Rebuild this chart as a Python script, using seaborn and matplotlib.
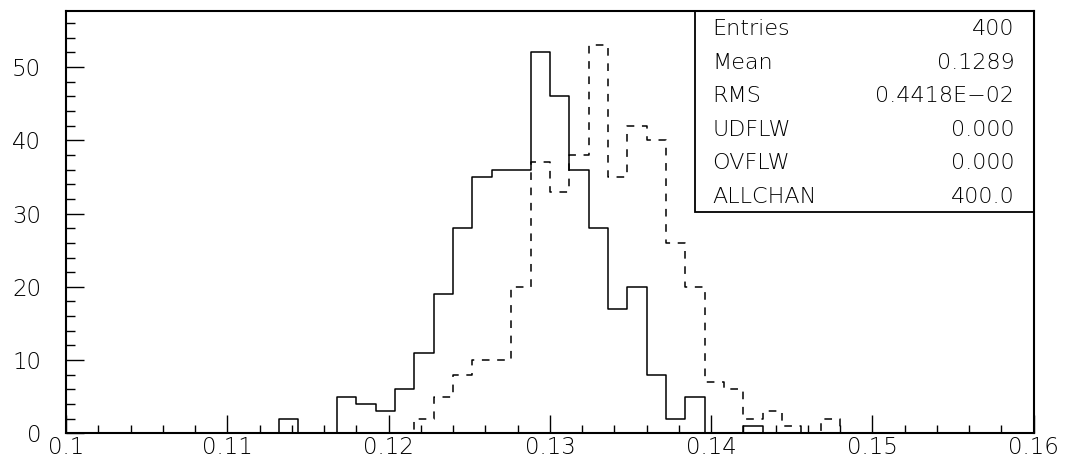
import numpy as np
import pandas as pd
import matplotlib
matplotlib.use("Agg")
import matplotlib.pyplot as plt
import seaborn as sns
from matplotlib.patches import Rectangle
from matplotlib.ticker import MultipleLocator

# ---------------------------------------------------------
# Dati: 50 canali da 0.1 a 0.16 (larghezza 0.0012)
# ---------------------------------------------------------
X_MIN, X_MAX, N_BINS = 0.1, 0.16, 50

# conteggi per canale (istogramma continuo)
solid_counts = [0] * 11 + [2, 0, 0, 5, 4, 3, 6, 11, 19, 28, 35, 36, 36, 52, 46,
                           36, 28, 17, 20, 8, 2, 5, 0, 0, 1] + [0] * 14
# conteggi per canale (istogramma tratteggiato)
dashed_counts = [0] * 18 + [2, 5, 8, 10, 10, 20, 37, 33, 38, 53, 35, 42, 40,
                            26, 20, 7, 6, 2, 3, 1, 0, 2] + [0] * 10

stat_names = ['Entries', 'Mean', 'RMS', 'UDFLW', 'OVFLW', 'ALLCHAN']
stat_values = ['400', '0.1289', '0.4418E\u221202', '0.000', '0.000', '400.0']

xtick_labels = ['0.1', '0.11', '0.12', '0.13', '0.14', '0.15', '0.16']
ytick_values = [0, 10, 20, 30, 40, 50]

edges = np.linspace(X_MIN, X_MAX, N_BINS + 1)
centers = 0.5 * (edges[:-1] + edges[1:])
df = pd.DataFrame({'x': centers, 'solid': solid_counts, 'dashed': dashed_counts})

# ---------------------------------------------------------
# Stile
# ---------------------------------------------------------
sns.set_style("ticks")
plt.rcParams['font.family'] = ['DejaVu Sans']
plt.rcParams['font.weight'] = 'light'
FS = 16.5
FS_BOX = 16

fig = plt.figure(figsize=(10.67, 4.68), dpi=100)
ax = fig.add_axes([0.0619, 0.0741, 0.9069, 0.9030])

sns.histplot(data=df, x='x', weights='solid', bins=N_BINS,
             binrange=(X_MIN, X_MAX), element='step',
             fill=False, color='black', linewidth=1.1, ax=ax)
sns.histplot(data=df, x='x', weights='dashed', bins=N_BINS,
             binrange=(X_MIN, X_MAX), element='step',
             fill=False, color='black', linewidth=1.1, ax=ax,
             linestyle=(0, (5, 5)))

ax.set_xlim(X_MIN, X_MAX)
ax.set_ylim(0, 57.7)
ax.set_xlabel('')
ax.set_ylabel('')

ax.set_xticks([float(t) for t in xtick_labels])
ax.set_xticklabels(xtick_labels)
ax.xaxis.set_minor_locator(MultipleLocator(0.002))
ax.set_yticks(ytick_values)
ax.set_yticklabels([str(v) for v in ytick_values])
ax.yaxis.set_minor_locator(MultipleLocator(2))

ax.tick_params(axis='both', which='both', direction='in', colors='black',
               labelsize=FS, top=False, right=False)
ax.tick_params(axis='x', which='major', length=13, width=1.0, pad=2)
ax.tick_params(axis='x', which='minor', length=6, width=1.0)
ax.tick_params(axis='y', which='major', length=13, width=1.0, pad=18)
ax.tick_params(axis='y', which='minor', length=6.5, width=1.0)

for sp in ax.spines.values():
    sp.set_visible(True)
    sp.set_linewidth(1.5)
    sp.set_color('black')

# ---------------------------------------------------------
# Riquadro statistiche
# ---------------------------------------------------------
box_left, box_bottom = 0.6498, 0.523
ax.add_patch(Rectangle((box_left, box_bottom), 1 - box_left, 1 - box_bottom,
                       transform=ax.transAxes, fill=False, edgecolor='black',
                       linewidth=1.3, zorder=5, clip_on=False))
row_px = [29.2, 62.7, 96.0, 129.5, 162.7, 197.0]
for name, val, ypx in zip(stat_names, stat_values, row_px):
    yf = (433.3 - ypx) / 422.6
    ax.text(0.668, yf, name, transform=ax.transAxes, ha='left', va='center',
            fontsize=FS_BOX, color='black')
    ax.text(0.980, yf, val, transform=ax.transAxes, ha='right', va='center',
            fontsize=FS_BOX, color='black')

fig.savefig('out.png', dpi=100)
